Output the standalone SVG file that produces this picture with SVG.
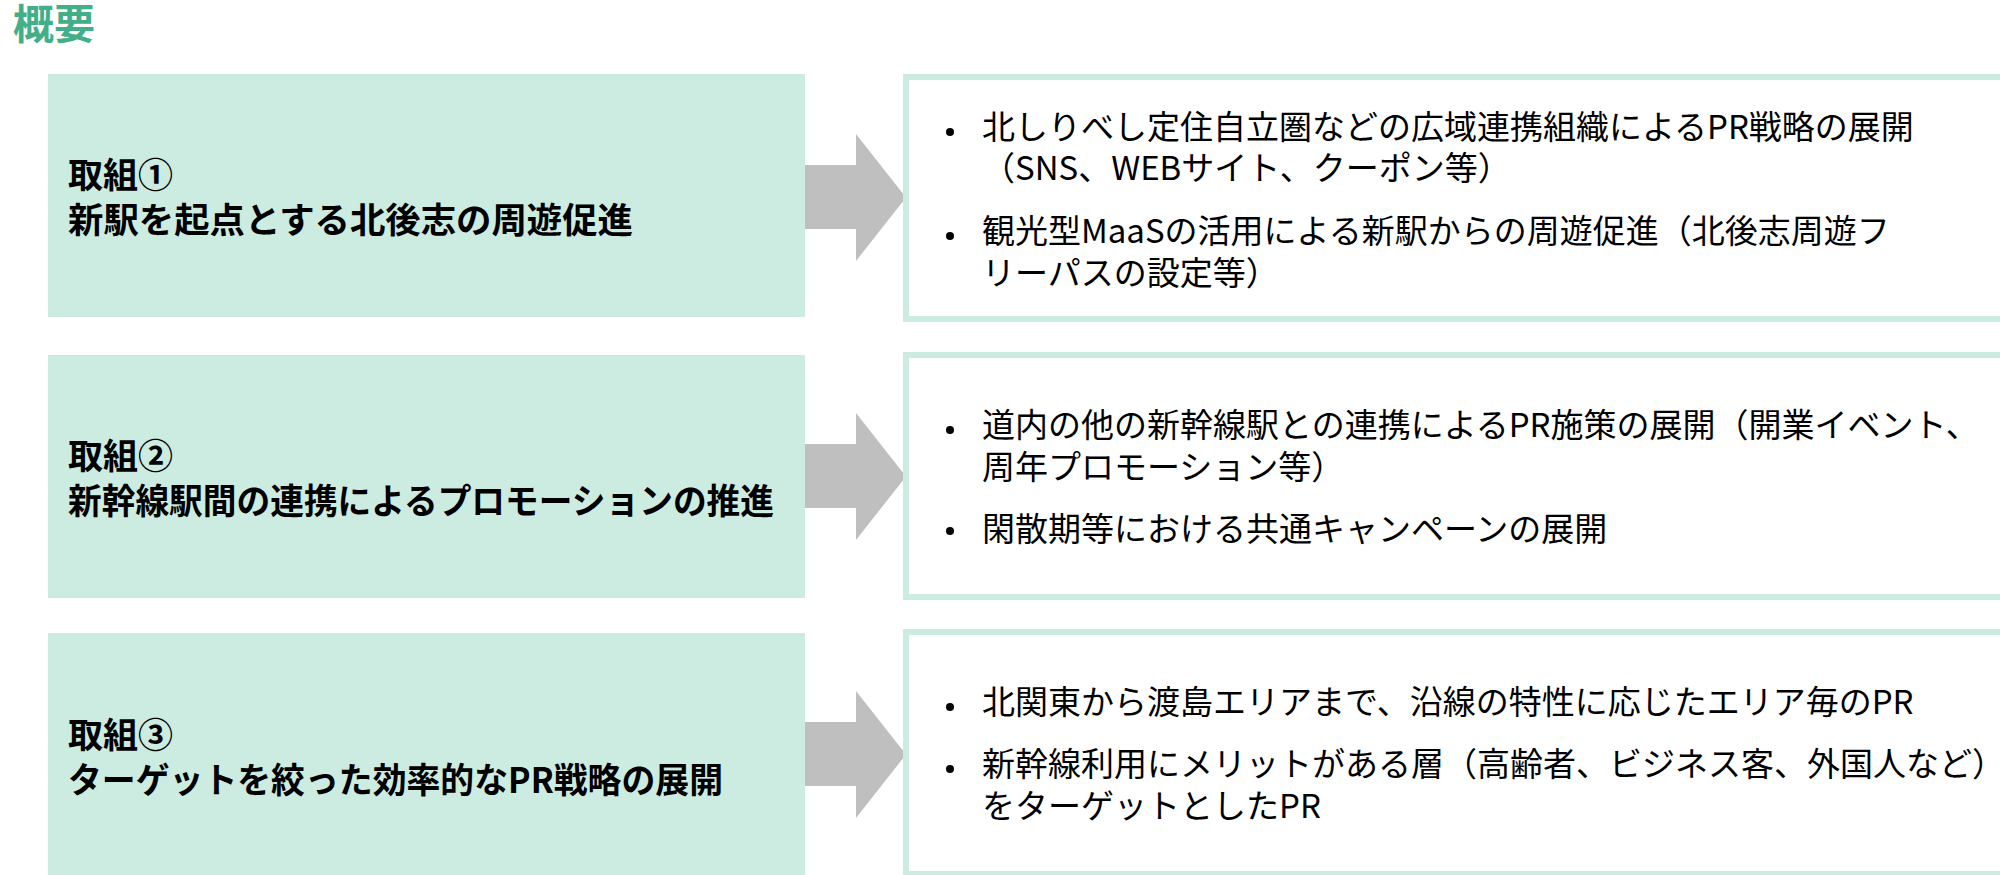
<svg xmlns="http://www.w3.org/2000/svg" width="2000" height="875" viewBox="0 0 2000 875">
<style>
.title{font-family:"Noto Sans CJK JP","Noto Sans",sans-serif;font-weight:bold;font-size:41px;fill:#43AF89}
.lbox{fill:#CCEBE1}
.rbox{fill:#FFFFFF;stroke:#CCEBE1;stroke-width:6}
.ltxt{font-family:"Noto Sans CJK JP","Noto Sans",sans-serif;font-weight:bold;font-size:35px;fill:#000}
.rtxt{font-family:"Noto Sans CJK JP","Noto Sans",sans-serif;font-size:33px;fill:#000}
.arrow{fill:#BFBFBF}
.bul{fill:#000}
</style>
<rect width="2000" height="875" fill="#FFFFFF"/>
<text class="title" x="13" y="39">概要</text>

<g id="connectors">
<polygon class="arrow" points="804,165 856,165 856,134 906,197.5 856,261 856,229 804,229"/>
<polygon class="arrow" points="804,444 856,444 856,413 906,476.5 856,540 856,508 804,508"/>
<polygon class="arrow" points="804,722 856,722 856,691 906,754.5 856,818 856,786 804,786"/>
</g>

<g id="node-left-1">
<rect class="lbox" x="48" y="74" width="757" height="243"/>
<text class="ltxt" x="68" y="188">取組①</text>
<text class="ltxt" x="68" y="233" textLength="565" lengthAdjust="spacingAndGlyphs">新駅を起点とする北後志の周遊促進</text>
</g>
<g id="node-right-1">
<rect class="rbox" x="906" y="77" width="1100" height="242"/>
<circle class="bul" cx="950" cy="132" r="4"/>
<text class="rtxt" x="982" y="139">北しりべし定住自立圏などの広域連携組織によるPR戦略の展開</text>
<text class="rtxt" x="982" y="180">（SNS、WEBサイト、クーポン等）</text>
<circle class="bul" cx="950" cy="236" r="4"/>
<text class="rtxt" x="982" y="243">観光型MaaSの活用による新駅からの周遊促進（北後志周遊フ</text>
<text class="rtxt" x="982" y="285">リーパスの設定等）</text>
</g>

<g id="node-left-2">
<rect class="lbox" x="48" y="355" width="757" height="243"/>
<text class="ltxt" x="68" y="469">取組②</text>
<text class="ltxt" x="68" y="514" textLength="706" lengthAdjust="spacingAndGlyphs">新幹線駅間の連携によるプロモーションの推進</text>
</g>
<g id="node-right-2">
<rect class="rbox" x="906" y="355" width="1100" height="242"/>
<circle class="bul" cx="950" cy="430" r="4"/>
<text class="rtxt" x="982" y="437">道内の他の新幹線駅との連携によるPR施策の展開（開業イベント、</text>
<text class="rtxt" x="982" y="479">周年プロモーション等）</text>
<circle class="bul" cx="950" cy="531" r="4"/>
<text class="rtxt" x="982" y="541">閑散期等における共通キャンペーンの展開</text>
</g>

<g id="node-left-3">
<rect class="lbox" x="48" y="633" width="757" height="242"/>
<text class="ltxt" x="68" y="748">取組③</text>
<text class="ltxt" x="68" y="793" textLength="655" lengthAdjust="spacingAndGlyphs">ターゲットを絞った効率的なPR戦略の展開</text>
</g>
<g id="node-right-3">
<rect class="rbox" x="906" y="632" width="1100" height="242"/>
<circle class="bul" cx="950" cy="707" r="4"/>
<text class="rtxt" x="982" y="714">北関東から渡島エリアまで、沿線の特性に応じたエリア毎のPR</text>
<circle class="bul" cx="950" cy="769" r="4"/>
<text class="rtxt" x="982" y="776">新幹線利用にメリットがある層（高齢者、ビジネス客、外国人など）</text>
<text class="rtxt" x="982" y="818">をターゲットとしたPR</text>
</g>
</svg>
